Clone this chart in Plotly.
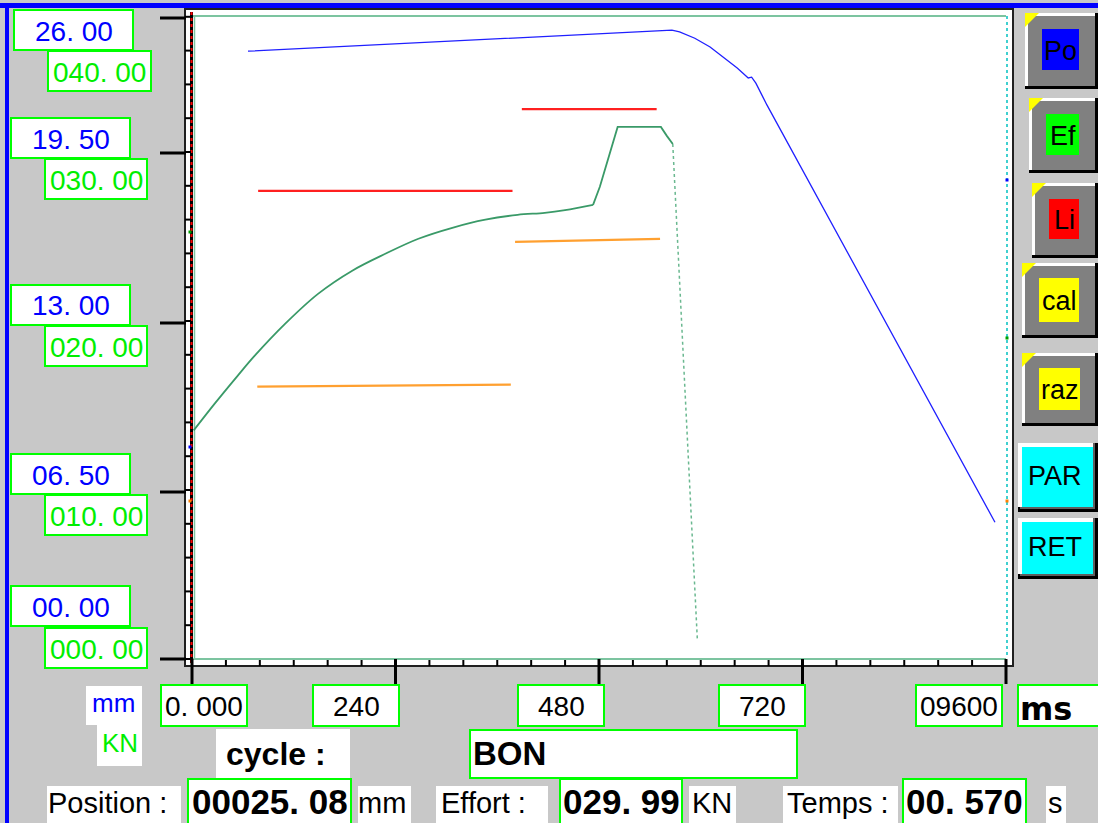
import plotly.graph_objects as go

W, H = 1098, 823

# ---------------- data ----------------
pos_time_ms = [66, 552, 566, 575, 593, 611, 626, 643, 656, 660, 665, 678, 947]
position_mm = [23.38, 24.15, 24.19, 24.12, 23.88, 23.54, 23.15, 22.73, 22.35, 22.38, 22.15, 21.31, 5.23]

ramp_time_ms = [2, 27, 54, 74, 110, 149, 189, 228, 267, 307, 346, 384, 416, 440, 473]
ramp_effort_kn = [13.49, 15.09, 16.74, 17.92, 19.82, 21.60, 22.96, 23.96, 24.85, 25.50, 25.98, 26.27,
                  26.39, 26.55, 26.86]

press_time_ms = [473, 481, 502, 553, 560, 567]
press_effort_kn = [26.86, 27.93, 31.48, 31.48, 30.95, 30.47]

drop_time_ms = [567, 596]
drop_effort_kn = [30.47, 1.07]

limit_high_time_ms = [[78, 378], [389, 548]]
limit_high_kn = [[27.69, 27.69], [32.54, 32.54]]
limit_low_time_ms = [[77, 376], [381, 552]]
limit_low_kn = [[16.09, 16.21], [24.67, 24.85]]

y_labels_mm = ["26. 00", "19. 50", "13. 00", "06. 50", "00. 00"]
y_labels_kn = ["040. 00", "030. 00", "020. 00", "010. 00", "000. 00"]
x_ticks_ms = [0, 240, 480, 720, 960]
x_labels = ["0. 000", "240", "480", "720", "09600"]

cycle_status = "BON"
position_value = "00025. 08"
effort_value = "029. 99"
temps_value = "00. 570"
buttons = ["Po", "Ef", "Li", "cal", "raz", "PAR", "RET"]

# ---------------- layout helpers ----------------
X0, X1 = 192, 1006       # plot area pixels
Y0, Y1 = 16, 658
KN_TOP = (Y1 - Y0) / 16.87
MM_TOP = KN_TOP * 0.65
MS_MAX = 960

GRAY = "#c8c8c8"
GREEN_BOX = "#00ff00"

shapes = []
annotations = []


def px(x):
    return x / W


def py(y):
    return 1 - y / H


def rect(x0, y0, x1, y1, fill, line_color=None, lw=0, layer="below"):
    shapes.append(dict(type="rect", xref="paper", yref="paper",
                       x0=px(x0), x1=px(x1), y0=py(y1), y1=py(y0),
                       fillcolor=fill, line=dict(color=line_color or fill, width=lw), layer=layer))


def seg(x0, y0, x1, y1, color, width, dash="solid", layer="below"):
    shapes.append(dict(type="line", xref="paper", yref="paper",
                       x0=px(x0), y0=py(y0), x1=px(x1), y1=py(y1),
                       line=dict(color=color, width=width, dash=dash), layer=layer))


def poly(points, fill, layer="below"):
    d = "M " + " L ".join(f"{px(a):.5f},{py(b):.5f}" for a, b in points) + " Z"
    shapes.append(dict(type="path", xref="paper", yref="paper", path=d,
                       fillcolor=fill, line=dict(width=0), layer=layer))


def text(x, y, s, size, color="black", bold=False, xanchor="center", family="Liberation Sans"):
    annotations.append(dict(xref="paper", yref="paper", x=px(x), y=py(y),
                            text=f"<b>{s}</b>" if bold else s, showarrow=False,
                            xanchor=xanchor, yanchor="middle",
                            font=dict(size=size, color=color, family=family)))


def xpix(ms):
    return X0 + ms / MS_MAX * (X1 - X0)


# ---------------- chrome ----------------
# blue window border
rect(0, 3, W, 8, "#0000ff")
rect(5, 3, 9, H, "#0000ff")

# chart frame
rect(185, 9, 1013, 666, "white", "#202020", 2)
seg(192, 16, 1006, 16, "#7cc4a0", 2)
seg(192, 659, 1006, 659, "#7cc4a0", 2)
seg(194.5, 16, 194.5, 659, "#7cc4a0", 1.5)
seg(1007, 16, 1007, 658, "#40d0d0", 2, "dot")
seg(191.5, 12, 191.5, 663, "#000000", 3)
seg(191.5, 12, 191.5, 663, "#ff0000", 2, "dot")

# y axis minor / major ticks
for k in range(20):
    yy = 659 - k * 33.8
    seg(185, yy, 191, yy, "black", 2)
y_tick_pix = [18, 153, 323, 492, 659]
for yy in y_tick_pix:
    seg(160, yy, 186, yy, "black", 3)

# x axis minor / major ticks
for k in range(25):
    xx = xpix(k * 40)
    seg(xx, 660, xx, 666, "black", 2)
for t in x_ticks_ms:
    xx = xpix(t)
    seg(xx, 659, xx, 684, "black", 3)

# y labels
mm_box_x = [(14, 133), (11, 130), (11, 130), (11, 130), (11, 130)]
mm_box_top = [10, 118, 285, 454, 586]
kn_box_x = [(48, 151), (45, 147), (45, 147), (45, 147), (45, 147)]
kn_box_top = [51, 159, 326, 495, 628]
for lab, (a, b), t in zip(y_labels_mm, mm_box_x, mm_box_top):
    rect(a, t, b, t + 40, "white", GREEN_BOX, 2)
    text((a + b) / 2, t + 21, lab, 28, "#0000ff")
for lab, (a, b), t in zip(y_labels_kn, kn_box_x, kn_box_top):
    rect(a, t, b, t + 40, "white", GREEN_BOX, 2)
    text((a + b) / 2, t + 21, lab, 28, "#00ee00")

# x labels
x_box_left = [161, 313, 518, 719, 916]
for lab, a in zip(x_labels, x_box_left):
    rect(a, 685, a + 86, 726, "white", GREEN_BOX, 2)
    text(a + 43, 706, lab, 28, "black")
rect(1018, 685, 1100, 726, "white", GREEN_BOX, 2)
text(1018, 709, "ms", 32, "black", bold=True, xanchor="left", family="DejaVu Sans")

# units
rect(86, 686, 142, 725, "white")
text(113, 703, "mm", 26, "#0000ff")
rect(97, 724, 142, 766, "white")
text(120, 743, "KN", 26, "#00ee00")

# cycle row
rect(216, 729, 350, 778, "white")
text(224, 754, "cycle :", 32, "black", bold=True, xanchor="left")
rect(470, 730, 797, 778, "white", GREEN_BOX, 2)
text(471, 753, cycle_status, 33, "black", bold=True, xanchor="left")

# bottom row
rect(47, 786, 181, 830, "white")
text(46, 803, "Position :", 29, "black", xanchor="left")
rect(188, 779, 351, 830, "white", GREEN_BOX, 2)
text(269.5, 801, position_value, 35, "black", bold=True)
rect(358, 786, 411, 830, "white")
text(356, 803, "mm", 29, "black", xanchor="left")
rect(436, 786, 548, 830, "white")
text(439, 803, "Effort :", 29, "black", xanchor="left")
rect(560, 779, 682, 830, "white", GREEN_BOX, 2)
text(621, 801, effort_value, 35, "black", bold=True)
rect(689, 786, 736, 830, "white")
text(690, 803, "KN", 29, "black", xanchor="left")
rect(783, 786, 898, 830, "white")
text(785, 803, "Temps :", 29, "black", xanchor="left")
rect(903, 779, 1026, 830, "white", GREEN_BOX, 2)
text(964.5, 801, temps_value, 35, "black", bold=True)
rect(1046, 786, 1066, 830, "white")
text(1055, 803, "s", 29, "black")

# right-hand buttons
btn_outer = [(1025, 13, 1098, 89), (1029, 98, 1098, 173), (1032, 183, 1098, 258),
             (1022, 263, 1098, 338), (1022, 353, 1098, 426)]
btn_inner = [(1042, 29, 1079, 70), (1046, 114, 1079, 155), (1049, 199, 1079, 239),
             (1039, 278, 1079, 322), (1039, 368, 1080, 410)]
btn_color = ["#0000ff", "#00ff00", "#ff0000", "#ffff00", "#ffff00"]
for name, (a, b, c, d), (e, f, g, h), col in zip(buttons[:5], btn_outer, btn_inner, btn_color):
    rect(a, b, c, d, "black")
    rect(a, b, c - 3, d - 3, "white")
    rect(a + 3, b + 3, c - 3, d - 3, "#808080")
    poly([(a, b), (a + 14, b), (a, b + 14)], "#ffff00")
    rect(e, f, g, h, col)
    text((e + g) / 2, (f + h) / 2 + 1, name, 27, "black")
for name, (a, b, c, d) in zip(buttons[5:], [(1018, 443, 1098, 512), (1018, 518, 1098, 579)]):
    rect(a, b, c, d, "black")
    rect(a + 2, b, c - 3, d - 3, "#606060")
    rect(a, b, c - 5, d - 5, "white")
    rect(a + 4, b + 4, c - 5, d - 5, "#00ffff")
    text((a + c) / 2 - 3, (b + d) / 2 - 2, name, 27, "black")

# cursor markers
for (xx, yy, col) in [(190, 232, "#00a000"), (190, 447, "#0000ff"), (190, 501, "#ff8000"),
                      (1007, 180, "#0000ff"), (1007, 338, "#00a000"), (1007, 501, "#ff8000")]:
    rect(xx - 1.5, yy - 1.5, xx + 1.5, yy + 1.5, col, layer="above")

# ---------------- traces ----------------
fig = go.Figure()
for tx, ty in zip(limit_high_time_ms, limit_high_kn):
    fig.add_trace(go.Scatter(x=tx, y=ty, mode="lines", line=dict(color="#ff2020", width=2.2),
                             hoverinfo="skip"))
for tx, ty in zip(limit_low_time_ms, limit_low_kn):
    fig.add_trace(go.Scatter(x=tx, y=ty, mode="lines", line=dict(color="#ffa030", width=2.2),
                             hoverinfo="skip"))
fig.add_trace(go.Scatter(x=drop_time_ms, y=drop_effort_kn, mode="lines",
                         line=dict(color="#6ab890", width=1.5, dash="dot"), name="Effort"))
fig.add_trace(go.Scatter(x=ramp_time_ms, y=ramp_effort_kn, mode="lines",
                         line=dict(color="#3a9a68", width=1.8, shape="spline", smoothing=1.0),
                         name="Effort"))
fig.add_trace(go.Scatter(x=press_time_ms, y=press_effort_kn, mode="lines",
                         line=dict(color="#3a9a68", width=1.8), name="Effort"))
fig.add_trace(go.Scatter(x=pos_time_ms, y=position_mm, mode="lines", yaxis="y2",
                         line=dict(color="#2020ff", width=1.3), name="Position"))

hidden = dict(showgrid=False, zeroline=False, showticklabels=False, showline=False, ticks="")
fig.update_layout(
    width=W, height=H, margin=dict(l=0, r=0, t=0, b=0), autosize=False,
    paper_bgcolor=GRAY, plot_bgcolor="rgba(0,0,0,0)", showlegend=False,
    xaxis=dict(domain=[px(X0), px(X1)], range=[0, MS_MAX], fixedrange=True, **hidden),
    yaxis=dict(domain=[py(Y1), py(Y0)], range=[0, KN_TOP], fixedrange=True, **hidden),
    yaxis2=dict(overlaying="y", range=[0, MM_TOP], fixedrange=True, **hidden),
    shapes=shapes, annotations=annotations,
)
fig.write_html("out.html", config={"displayModeBar": False},
               post_script="document.body.style.margin='0';document.body.style.background='#c8c8c8';")
